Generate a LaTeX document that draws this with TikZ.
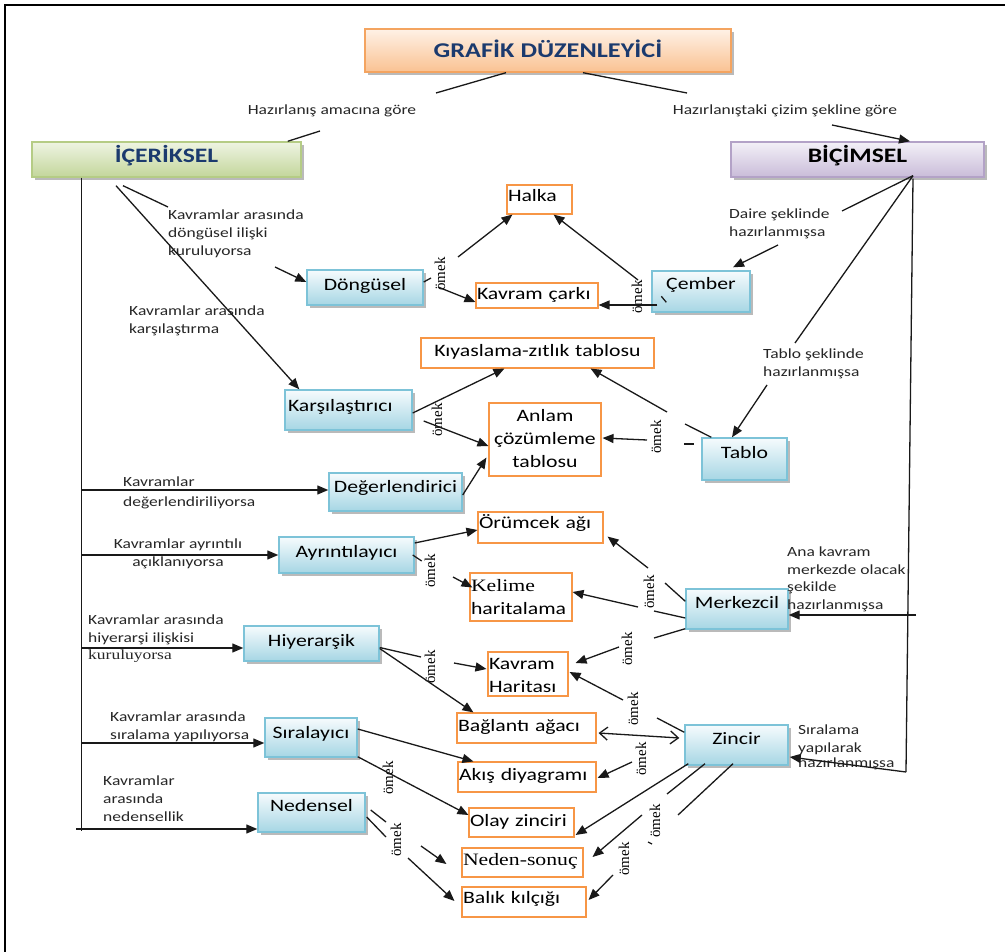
\documentclass[tikz,border=0pt]{standalone}
\usepackage{fontspec}
\setmainfont{Carlito}[FakeStretch=1.25]
\newfontfamily\serifst{Liberation Serif}[FakeStretch=1.25]
\newfontfamily\omekfnt{Liberation Serif}
\usetikzlibrary{arrows.meta,shadows}
\definecolor{blueB}{HTML}{7DC3D8}
\definecolor{blueT}{HTML}{F6FBFD}
\definecolor{blueD}{HTML}{A6D6E4}
\definecolor{orB}{HTML}{F79646}
\definecolor{navy}{HTML}{1B3A6E}
\definecolor{titT}{HTML}{FEF1E6}
\definecolor{titD}{HTML}{FAC292}
\definecolor{titB}{HTML}{F4A460}
\definecolor{grT}{HTML}{EEF4E2}
\definecolor{grD}{HTML}{C3D69B}
\definecolor{grB}{HTML}{B5CC85}
\definecolor{puT}{HTML}{F3F0F7}
\definecolor{puD}{HTML}{C9BCD9}
\definecolor{puB}{HTML}{B3A2C7}
\begin{document}
\begin{tikzpicture}[x=1pt,y=-1pt,
  lab/.style={font=\fontsize{14}{18}\selectfont, inner sep=0pt, align=left, text=black!85},
  omek/.style={font=\omekfnt\fontsize{15}{15}\selectfont, rotate=90, inner sep=0pt},
  shad/.style={drop shadow={shadow xshift=3pt, shadow yshift=-3pt, fill=black!45, opacity=0.6}},
  bbox/.style={shad, draw=blueB, line width=1.4pt, top color=blueT, bottom color=blueD, inner xsep=0pt, inner ysep=0pt, align=center, font=\fontsize{17.4}{20}\selectfont},
  obox/.style={draw=orB, line width=1.1pt, fill=white, inner xsep=1pt, inner ysep=0pt, align=left, font=\fontsize{17.4}{23}\selectfont},
  hbox/.style={shad, line width=1.4pt, inner sep=0pt, align=center, font=\bfseries\fontsize{20.5}{24}\selectfont},
  ln/.style={line width=1.3pt, draw=black!90},
  arr/.style={ln, -{Triangle[length=11pt,width=9pt]}},
  oarr/.style={ln, {Straight Barb[length=8pt,width=13pt]}-{Straight Barb[length=8pt,width=13pt]}},
]
\fill[white] (0,0) rectangle (1005,952);
\useasboundingbox (0,0) rectangle (1005,952);
\draw[line width=2.5pt] (5,952) -- (5,5) -- (1005,5);

% headers
\node[hbox, draw=titB, top color=titT, bottom color=titD, text=navy, minimum width=366, text height=29, text depth=14, font=\bfseries\fontsize{21}{24}\selectfont] (tit) at (548,50.5) {GRAFİK DÜZENLEYİCİ};
\node[hbox, draw=grB, top color=grT, bottom color=grD, text=navy, minimum width=269, text height=21, text depth=14] (ic) at (166.5,159.5) {İÇERİKSEL};
\node[hbox, draw=puB, top color=puT, bottom color=puD, text=black, minimum width=253, text height=21, text depth=14] (bic) at (857.5,159.5) {BİÇİMSEL};

% blue boxes
\node[bbox, minimum width=116, text height=21, text depth=14] (dong) at (365,287.5) {Döngüsel};
\node[bbox, text width=121, inner xsep=3pt, align=left, text height=21, text depth=19] (karsi) at (348.5,410) {Karşılaştırıcı};
\node[bbox, minimum width=133, text height=19, text depth=19] (deger) at (395.5,492) {Değerlendirici};
\node[bbox, minimum width=135, text height=20, text depth=16] (ayr) at (346.5,555) {Ayrıntılayıcı};
\node[bbox, minimum width=135, text height=20, text depth=15] (hiy) at (311.5,643.5) {Hiyerarşik};
\node[bbox, minimum width=92, text height=20, text depth=19] (sira) at (311,737.5) {Sıralayıcı};
\node[bbox, minimum width=107, text height=18, text depth=21] (neden) at (311.5,812.5) {Nedensel};
\node[bbox, minimum width=98, text height=19, text depth=22] (cember) at (701,291.5) {Çember};
\node[bbox, minimum width=85, text height=20, text depth=22] (tablo) at (744.5,459) {Tablo};
\node[bbox, minimum width=102, text height=19, text depth=21] (merk) at (737,609) {Merkezcil};
\node[bbox, minimum width=103, text height=19, text depth=21] (zincir) at (736.5,745) {Zincir};

% orange boxes
\node[obox, text width=63, text height=17, text depth=12] (halka) at (539.5,199.5) {Halka};
\node[obox, text width=120, text height=17, text depth=8] (kcark) at (537,295.5) {Kavram çarkı};
\node[obox, text width=231, text height=18, text depth=12, align=center] (kiyas) at (537.5,353) {Kıyaslama-zıtlık tablosu};
\node[obox, text width=110, text height=18, text depth=55, align=center] (anlam) at (545,439.5) {Anlam\\çözümleme\\tablosu};
\node[obox, text width=123, text height=16, text depth=15] (orum) at (540.5,527.5) {Örümcek ağı};
\node[obox, text width=100, text height=18, text depth=30] (kelime) at (521,597) {{\serifst Kelime}\\haritalama};
\node[obox, text width=78, text height=17, text depth=27] (khar) at (528,674) {Kavram\\Haritası};
\node[obox, text width=137, text height=18, text depth=12] (bag) at (526.5,728) {Bağlantı ağacı};
\node[obox, text width=136, text height=18, text depth=12] (akis) at (527,777) {Akış diyagramı};
\node[obox, text width=103, text height=18, text depth=11] (olay) at (521.5,822.5) {Olay zinciri};
\node[obox, text width=119, text height=17, text depth=12] (nsonuc) at (522.5,862.5) {\serifst Neden-sonuç};
\node[obox, text width=122, text height=16, text depth=14] (balik) at (524,902) {Balık kılçığı};

% labels (base anchor = last line's baseline)
\node[lab, anchor=base] (lab1) at (332,115) {Hazırlanış amacına göre};
\node[lab, anchor=base] (lab2) at (785,115) {Hazırlanıştaki çizim şekline göre};
\node[lab, anchor=base west] (lab3) at (168,255.5) {Kavramlar arasında\\döngüsel ilişki\\kuruluyorsa};
\node[lab, anchor=base west] (lab4) at (129,333.5) {Kavramlar arasında\\karşılaştırma};
\node[lab, anchor=base west] (lab5) at (123,506.5) {Kavramlar\\[2pt]değerlendiriliyorsa};
\node[lab, anchor=base, align=center] (lab6) at (178,566.5) {Kavramlar ayrıntılı\\açıklanıyorsa};
\node[lab, anchor=base west] (lab7) at (88,659.5) {Kavramlar arasında\\hiyerarşi ilişkisi\\[-1pt]{\serifst kuruluyorsa}};
\node[lab, anchor=base west] (lab8) at (110,739.5) {Kavramlar arasında\\sıralama yapılıyorsa};
\node[lab, anchor=base west] (lab9) at (103,821.5) {Kavramlar\\arasında\\nedensellik};
\node[lab, anchor=base west] (lab10) at (729,236.5) {Daire şeklinde\\hazırlanmışsa};
\node[lab, anchor=base west] (lab11) at (763,376.5) {Tablo şeklinde\\hazırlanmışsa};
\node[lab, anchor=base west] (lab12) at (787,609.5) {Ana kavram\\merkezde olacak\\[-1pt]şekilde\\hazırlanmışsa};
\node[lab, anchor=base west] (lab13) at (798,767.5) {Sıralama\\yapılarak\\[-3pt]hazırlanmışsa};

% ömek labels
\node[omek] (om1) at (440,274) {ömek};
\node[omek] (om2) at (637,297) {ömek};
\node[omek] (om3) at (437,420) {ömek};
\node[omek] (om4) at (656,437) {ömek};
\node[omek] (om5) at (430,571) {ömek};
\node[omek] (om6) at (649,592) {ömek};
\node[omek] (om7) at (430,667) {ömek};
\node[omek] (om8) at (627,649) {ömek};
\node[omek] (om9) at (633,709) {ömek};
\node[omek] (om10) at (641,759) {ömek};
\node[omek] (om11) at (388,778) {ömek};
\node[omek] (om12) at (396,840) {ömek};
\node[omek] (om13) at (655,821) {ömek};
\node[omek] (om14) at (624,859) {ömek};

% free ends
\coordinate (a1) at (436,93);
\coordinate (a2) at (320,131);
\coordinate (a3) at (687,93);
\coordinate (a4) at (832,125);
\coordinate (a6) at (168,207);
\coordinate (a7) at (275,267);
\coordinate (a12) at (842,211);
\coordinate (a13) at (778,245);
\coordinate (a14) at (795,343);
\coordinate (a15) at (767,385);
\coordinate (v2) at (906,772);
\coordinate (m1) at (916,615);
\coordinate (a24) at (685,424);
\coordinate (a24b) at (667,412);
\coordinate (a32) at (453,577);
\coordinate (b1) at (665,583);
\coordinate (b2) at (648,568);
\coordinate (b3) at (654,611);
\coordinate (b4) at (638,607);
\coordinate (b5) at (654,638);
\coordinate (b6) at (619,647);
\coordinate (c1) at (421,657);
\coordinate (c2) at (454,663);
\coordinate (d1) at (657,718);
\coordinate (d2) at (623,700);
\coordinate (d3) at (632,762);
\coordinate (d4) at (667,794);
\coordinate (d5) at (642,815);
\coordinate (d6) at (678,815);
\coordinate (d7) at (613,875);
\coordinate (e1) at (386,822);
\coordinate (e2) at (421,846);
\coordinate (e3) at (386,837);
\coordinate (e4) at (408,858);

% top connectors
\draw[ln] ([shift={(-42,0)}]tit.south) -- (a1);
\draw[ln] (a2) -- ([shift={(-14,0)}]ic.north east);
\draw[ln] ([shift={(35,0)}]tit.south) -- (a3);
\draw[arr] (a4) -- ([shift={(52.5,0)}]bic.north);

% İÇERİKSEL side
\draw[ln] ([shift={(50,0)}]ic.south west) -- ([shift={(-176,-2)}]neden.south west);
\draw[ln] ([shift={(-43.5,8)}]ic.south) -- (a6);
\draw[arr] (a7) -- ([shift={(0,-5.5)}]dong.west);
\draw[arr] ([shift={(-50.5,8)}]ic.south) -- ([shift={(15,0)}]karsi.north west);
\draw[arr] ([shift={(-247,-2)}]deger.west) -- ([shift={(0,-2)}]deger.west);
\draw[arr] ([shift={(-197,0)}]ayr.west) -- (ayr.west);
\draw[arr] ([shift={(-162,4.5)}]hiy.west) -- ([shift={(0,4.5)}]hiy.west);
\draw[arr] ([shift={(-183,5.5)}]sira.west) -- ([shift={(0,5.5)}]sira.west);
\draw[arr] ([shift={(-181,16.5)}]neden.west) -- ([shift={(0,16.5)}]neden.west);

% BİÇİMSEL side
\draw[ln] ([shift={(55.5,-2)}]bic.south) -- (a12);
\draw[arr] (a13) -- ([shift={(32,-3)}]cember.north);
\draw[ln] ([shift={(55.5,-2)}]bic.south) -- (a14);
\draw[arr] (a15) -- ([shift={(-12.5,0)}]tablo.north);
\draw[ln] ([shift={(55.5,1)}]bic.south) -- (v2);
\draw[arr] (m1) -- ([shift={(0,6)}]merk.east);
\draw[arr] (v2) -- ([shift={(1,12)}]zincir.east);

% Döngüsel / Çember
\draw[ln] ([shift={(0,-5.5)}]dong.east) -- ([shift={(-9,4)}]om1.center);
\draw[arr] ([shift={(18,-17)}]om1.center) -- ([shift={(6,0)}]halka.south west);
\draw[arr] ([shift={(-2,13)}]om1.center) -- ([shift={(0,6.5)}]kcark.west);
\draw[ln] ([shift={(10,26)}]cember.north west) -- ([shift={(15,32)}]cember.north west);
\draw[arr] ([shift={(1,-17)}]om2.center) -- ([shift={(-19,0)}]halka.south east);
\draw[arr] ([shift={(6,13.5)}]cember.west) -- ([shift={(0,9.5)}]kcark.east);

% Karşılaştırıcı / Tablo / Değerlendirici
\draw[arr] ([shift={(0,3)}]karsi.east) -- ([shift={(84,0)}]kiyas.south west);
\draw[arr] ([shift={(11,11)}]karsi.east) -- ([shift={(0,6.5)}]anlam.west);
\draw[ln] ([shift={(10,0)}]tablo.north west) -- (a24);
\draw[arr] (a24b) -- ([shift={(-64,0)}]kiyas.south east);
\draw[ln] ([shift={(-17,-15)}]tablo.west) -- ([shift={(-7,-15)}]tablo.west);
\draw[arr] ([shift={(-9,3)}]om4.center) -- ([shift={(1,-1.5)}]anlam.east);
\draw[arr] ([shift={(0,3)}]deger.east) -- ([shift={(-2,-19)}]anlam.south west);

% Ayrıntılayıcı / Merkezcil
\draw[arr] ([shift={(0,-12)}]ayr.east) -- ([shift={(0,2.5)}]orum.west);
\draw[ln] ([shift={(-2,0)}]ayr.east) -- ([shift={(7,6)}]ayr.east);
\draw[arr] (a32) -- ([shift={(3,15)}]kelime.north west);
\draw[ln] ([shift={(0,13)}]merk.north west) -- (b1);
\draw[arr] (b2) -- ([shift={(4,-7)}]orum.south east);
\draw[ln] ([shift={(0,9)}]merk.west) -- (b3);
\draw[arr] (b4) -- ([shift={(0,-5)}]kelime.east);
\draw[ln] ([shift={(0,-1)}]merk.south west) -- (b5);
\draw[arr] (b6) -- ([shift={(7,-11)}]khar.east);

% Hiyerarşik / Zincir
\draw[ln] ([shift={(0,4)}]hiy.east) -- (c1);
\draw[arr] (c2) -- ([shift={(-1,-5)}]khar.west);
\draw[arr] ([shift={(0,5)}]hiy.east) -- ([shift={(17,0)}]bag.north west);
\draw[ln] ([shift={(0,8)}]zincir.north west) -- (d1);
\draw[arr] (d2) -- ([shift={(1,-2)}]khar.east);
\draw[oarr] ([shift={(2,5)}]bag.east) -- ([shift={(-5,-7)}]zincir.west);
\draw[arr] (d3) -- ([shift={(1,1)}]akis.east);

% Sıralayıcı
\draw[arr] ([shift={(0,-8.5)}]sira.east) -- ([shift={(16,0)}]akis.north west);
\draw[arr] ([shift={(0,-1)}]sira.south east) -- ([shift={(0,-7.5)}]olay.west);

% Nedensel
\draw[ln] ([shift={(5,-2.5)}]neden.east) -- (e1);
\draw[arr] (e2) -- ([shift={(-15,1.5)}]nsonuc.west);
\draw[ln] ([shift={(1,4.5)}]neden.east) -- (e3);
\draw[arr] (e4) -- ([shift={(-7,-1)}]balik.west);

% Zincir bottom
\draw[arr] ([shift={(4,-2)}]zincir.south west) -- ([shift={(1,12.5)}]olay.east);
\draw[ln] ([shift={(-31.5,-2)}]zincir.south) -- (d4);
\draw[arr] (d5) -- ([shift={(9,-5.5)}]nsonuc.east);
\draw[ln] ([shift={(-7,21)}]om13.center) -- ([shift={(-3,23)}]om13.center);
\draw[ln] ([shift={(-3.5,-2)}]zincir.south) -- (d6);
\draw[arr] (d7) -- ([shift={(2,-2)}]balik.east);
\end{tikzpicture}
\end{document}
